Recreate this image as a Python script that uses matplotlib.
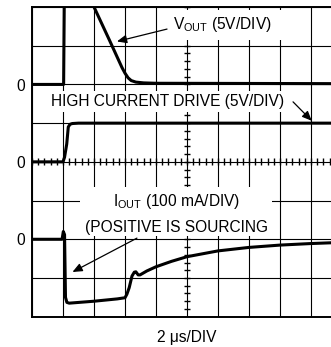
import matplotlib.pyplot as plt
import numpy as np
from matplotlib.patches import Rectangle

# scope traces, time in us (2 us/div)
vout_t = [0.0, 2.04, 2.1, 2.8, 4.0, 5.0, 5.8, 6.0, 6.2, 6.4, 6.7, 7.2, 8.0, 20.0]
vout_v = [0.0, 0.0, 15.5, 15.0, 10.0, 5.7, 2.2, 1.45, 0.85, 0.5, 0.3, 0.2, 0.15, 0.1]

drive_t = [0.0, 2.0, 2.1, 2.24, 2.34, 2.45, 2.6, 3.0, 20.0]
drive_v = [0.0, 0.0, 0.6, 2.3, 4.5, 4.85, 4.95, 5.0, 5.0]

iout_t = [0.0, 1.94, 2.02, 2.1, 2.16, 2.25, 2.4, 4.0, 5.5, 6.0, 6.12, 6.27,
          6.45, 6.6, 6.7, 6.85, 6.97, 7.4, 8.0, 9.0, 10.0, 12.0, 14.0, 16.0,
          18.0, 20.0]
iout_ma = [0, 0, 20, 12, -150, -163, -165, -160, -154, -151, -142, -125,
           -95, -85, -84, -92, -92, -82, -71, -57, -45, -30, -21, -15,
           -11, -8]

zero_labels = ["0", "0", "0"]

plt.rcParams["font.family"] = "Liberation Sans"
plt.rcParams["mathtext.fontset"] = "custom"
plt.rcParams["mathtext.rm"] = "Liberation Sans"
plt.rcParams["mathtext.it"] = "Liberation Sans:italic"

fig = plt.figure(figsize=(3.31, 3.47), dpi=100)
ax = fig.add_axes([0.0967, 0.0873, 0.9366, 0.8925])
ax.set_xlim(0, 20)
ax.set_ylim(0, 8)

# graticule: 10 x 8 divisions
ax.set_xticks(np.arange(0, 21, 2))
ax.set_yticks(np.arange(0, 9, 1))
ax.tick_params(length=0, labelbottom=False, labelleft=False)
ax.set_axisbelow(True)
ax.grid(color="black", lw=0.8)
for side in ["left", "bottom", "top"]:
    ax.spines[side].set_linewidth(1.4)
ax.spines["right"].set_visible(False)

# minor marks along the centre lines
ax.vlines(np.arange(0, 20.01, 0.4), 4 - 0.09, 4 + 0.09, color="black",
          lw=1.0, zorder=1.5)
ax.hlines(np.arange(0, 8.01, 0.2), 10 - 0.22, 10 + 0.22, color="black",
          lw=1.0, zorder=1.5)

# white patches behind the labels
for x0, x1, y0, y1 in [(8.58, 16.32, 7.15, 7.92),
                       (0.75, 16.6, 5.29, 5.83),
                       (3.1, 15.5, 2.08, 3.35)]:
    ax.add_patch(Rectangle((x0, y0), x1 - x0, y1 - y0, facecolor="white",
                           edgecolor="none", zorder=2))

# channel offsets: Vout 5V/div at div 6, drive 5V/div at div 4,
# Iout 100mA/div at div 2
trace = dict(color="black", lw=2.2, solid_joinstyle="round", zorder=3)
ax.plot(vout_t, 6 + np.array(vout_v) / 5, **trace)
ax.plot(drive_t, 4 + np.array(drive_v) / 5, **trace)
ax.plot(iout_t, 2 + np.array(iout_ma) / 100, **trace)

fs = 11.2
for lbl, y0 in zip(zero_labels, [6, 4, 2]):
    ax.text(-0.45, y0 - 0.16, lbl, ha="right", va="baseline", fontsize=fs,
            clip_on=False)

ax.text(9.1, 7.43, r"V$_{\mathrm{OUT}}$ (5V/DIV)", ha="left", va="baseline",
        fontsize=fs, zorder=4)
ax.text(8.74, 5.43, "HIGH CURRENT DRIVE (5V/DIV)", ha="center",
        va="baseline", fontsize=fs, zorder=4)
ax.text(9.32, 2.85, r"I$_{\mathrm{OUT}}$ (100 mA/DIV)", ha="center",
        va="baseline", fontsize=fs, zorder=4)
ax.text(9.29, 2.2, "(POSITIVE IS SOURCING", ha="center", va="baseline",
        fontsize=fs, zorder=4)
ax.text(10, -0.65, "2 μs/DIV", ha="center", va="baseline", fontsize=fs,
        clip_on=False)

arrow = dict(arrowstyle="-|>,head_length=0.58,head_width=0.25", lw=0.9,
             color="black", shrinkA=0, shrinkB=0)
ax.annotate("", xy=(5.48, 7.11), xytext=(8.71, 7.43), arrowprops=arrow,
            zorder=4)
ax.annotate("", xy=(18.05, 5.06), xytext=(16.84, 5.55), arrowprops=arrow,
            zorder=4)
ax.annotate("", xy=(2.61, 1.155), xytext=(6.77, 2.03), arrowprops=arrow,
            zorder=4)

fig.savefig("out.png", dpi=100)
